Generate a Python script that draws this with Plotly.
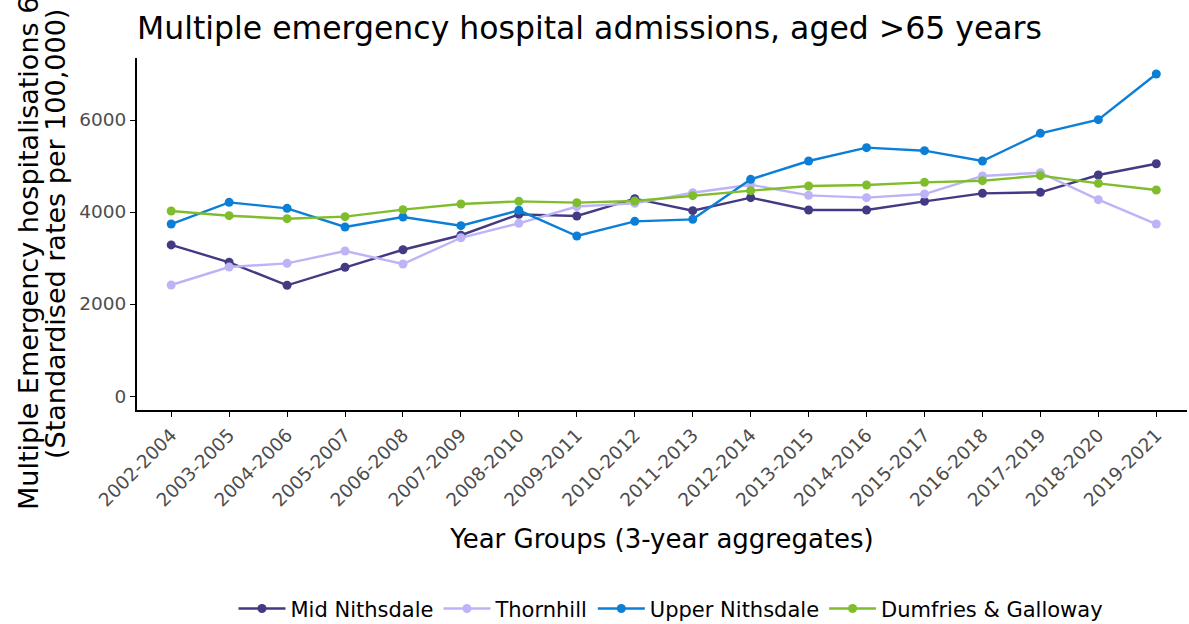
import plotly.graph_objects as go

years = ["2002-2004", "2003-2005", "2004-2006", "2005-2007", "2006-2008", "2007-2009",
         "2008-2010", "2009-2011", "2010-2012", "2011-2013", "2012-2014", "2013-2015",
         "2014-2016", "2015-2017", "2016-2018", "2017-2019", "2018-2020", "2019-2021"]

mid_nithsdale = [3285, 2907, 2407, 2798, 3180, 3495, 3949, 3913, 4290, 4029, 4312, 4043,
                 4043, 4232, 4406, 4428, 4804, 5050]
thornhill = [2413, 2804, 2884, 3152, 2870, 3440, 3754, 4120, 4188, 4420, 4594, 4362,
             4312, 4391, 4783, 4855, 4268, 3739]
upper_nithsdale = [3739, 4210, 4080, 3674, 3891, 3703, 4036, 3478, 3797, 3841, 4710, 5109,
                   5399, 5333, 5109, 5710, 6007, 7000]
dumfries_galloway = [4022, 3920, 3855, 3899, 4051, 4174, 4232, 4203, 4239, 4355, 4464, 4565,
                     4587, 4645, 4681, 4790, 4623, 4478]

series = [
    ("Mid Nithsdale", mid_nithsdale, "#433a84"),
    ("Thornhill", thornhill, "#bdb4f7"),
    ("Upper Nithsdale", upper_nithsdale, "#0b7fd8"),
    ("Dumfries & Galloway", dumfries_galloway, "#7fbd2c"),
]

y_title_lines = ["Multiple Emergency hospitalisations 65+", "(Standardised rates per 100,000)"]

font_family = "DejaVu Sans"
W, H = 1189, 624
L, R, T, B = 137, 2, 58, 214
pw = W - L - R

fig = go.Figure()
for name, vals, color in series:
    fig.add_trace(go.Scatter(
        x=years, y=vals, name=name, mode="lines+markers",
        line=dict(color=color, width=2.4),
        marker=dict(color=color, size=9),
    ))

# two-line y-axis title as rotated annotations (tight line spacing)
for px, txt in zip([28, 55], y_title_lines):
    fig.add_annotation(
        text=txt, xref="paper", yref="paper", x=(px - L) / pw, y=0.5,
        xanchor="center", yanchor="middle", textangle=-90, showarrow=False,
        font=dict(size=27, color="black", family=font_family),
    )

fig.update_layout(
    width=W, height=H,
    paper_bgcolor="white", plot_bgcolor="white",
    margin=dict(l=L, r=R, t=T, b=B, autoexpand=False),
    font=dict(family=font_family, color="black"),
    title=dict(text="Multiple emergency hospital admissions, aged >65 years",
               x=L / W, xanchor="left", y=1 - 28 / H, yanchor="middle",
               font=dict(size=31.5, color="black", family=font_family)),
    showlegend=True,
    legend=dict(orientation="h", x=(671 - L) / pw, xanchor="center", y=-0.565, yanchor="middle",
                font=dict(size=21, color="black"), itemwidth=47, traceorder="normal"),
)

fig.update_xaxes(
    type="category", range=[-0.59, 17.53], automargin=False,
    showline=True, linecolor="black", linewidth=2, mirror=False,
    ticks="outside", tickcolor="black", ticklen=5, tickwidth=1,
    showgrid=False, zeroline=False,
    tickangle=-45, tickfont=dict(size=18.5, color="#4d4d4d"),
    title=dict(text="Year Groups (3-year aggregates)", font=dict(size=26, color="black"),
               standoff=20),
)
fig.update_yaxes(
    range=[-304, 7348], automargin=False,
    showline=True, linecolor="black", linewidth=2,
    ticks="outside", tickcolor="black", ticklen=5, tickwidth=1,
    showgrid=False, zeroline=False,
    tickvals=[0, 2000, 4000, 6000], ticktext=["0", "2000", "4000", "6000"],
    tickfont=dict(size=18.5, color="#4d4d4d"),
)

fig.write_html("out.html", config={"displayModeBar": False},
               post_script="document.body.style.margin='0px';document.body.style.overflow='hidden';")
